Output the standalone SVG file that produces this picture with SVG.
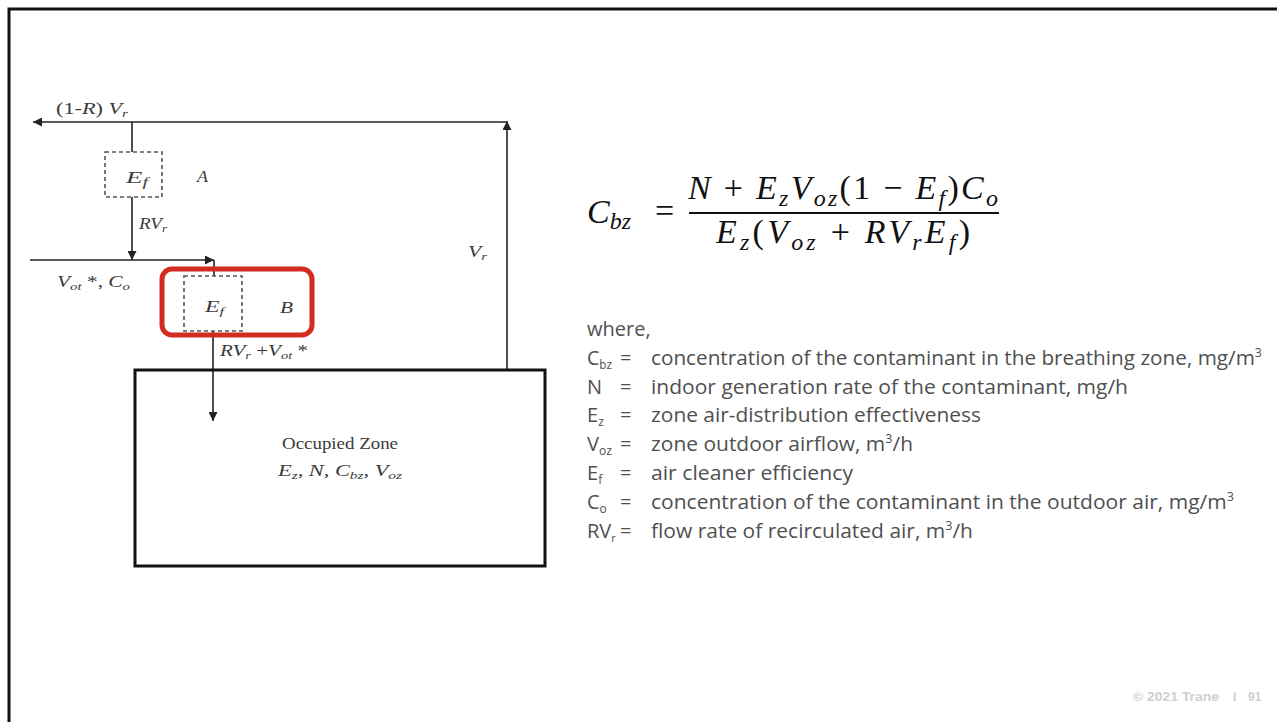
<svg xmlns="http://www.w3.org/2000/svg" width="1277" height="722" viewBox="0 0 1277 722">
<style>
.ln{stroke:#222;stroke-width:1.6;fill:none}
.dash{stroke:#555;stroke-width:1.6;fill:none;stroke-dasharray:4 3}
.dt{font-family:"Liberation Serif","Times New Roman",serif;fill:#3a3a3a;font-size:16px}
.it{font-style:italic}
.eq{font-family:"Liberation Serif","Times New Roman",serif;fill:#111;font-size:34px}
.lst{font-family:"Open Sans","Liberation Sans",sans-serif;fill:#505050;font-size:20px}
.sb{font-size:12px}
.foot{font-family:"Liberation Sans",Arial,sans-serif;fill:#cfcfcf;font-size:12px;font-weight:bold}
</style>
<defs>
<marker id="ah" viewBox="0 0 10 10" refX="10" refY="5" markerWidth="9" markerHeight="9" markerUnits="userSpaceOnUse" orient="auto">
<path d="M0,0 L10,5 L0,10 z" fill="#222"/>
</marker>
</defs>
<rect width="1277" height="722" fill="#fff"/>
<path d="M9,724 V9 H1280" stroke="#111" stroke-width="3" fill="none"/>

<g id="connectors">
<line class="ln" x1="507" y1="122" x2="33" y2="122" marker-end="url(#ah)"/>
<line class="ln" x1="507" y1="370" x2="507" y2="121" marker-end="url(#ah)"/>
<line class="ln" x1="132" y1="122" x2="132" y2="152"/>
<line class="ln" x1="132" y1="197" x2="132" y2="260" marker-end="url(#ah)"/>
<line class="ln" x1="30" y1="260" x2="214" y2="260" marker-end="url(#ah)"/>
<line class="ln" x1="214" y1="260" x2="214" y2="276"/>
<line class="ln" x1="213" y1="331" x2="213" y2="421" marker-end="url(#ah)"/>
</g>

<g id="label-outflow">
<text class="dt" x="56" y="114" textLength="72" lengthAdjust="spacingAndGlyphs">(1-<tspan class="it">R</tspan>) <tspan class="it">V</tspan><tspan class="it" dy="3" font-size="11">r</tspan></text>
</g>
<g id="label-vr">
<text class="dt it" x="468" y="257" textLength="19" lengthAdjust="spacingAndGlyphs">V<tspan dy="3" font-size="11">r</tspan></text>
</g>

<g id="node-filterA">
<rect class="dash" x="105" y="152" width="57" height="45"/>
<text class="dt it" x="126" y="183" font-size="18" textLength="22" lengthAdjust="spacingAndGlyphs">E<tspan dy="3" font-size="12">f</tspan></text>
<text class="dt it" x="197" y="182" textLength="11" lengthAdjust="spacingAndGlyphs">A</text>
</g>
<g id="label-rvr">
<text class="dt it" x="139" y="229" textLength="28" lengthAdjust="spacingAndGlyphs">RV<tspan dy="3" font-size="11">r</tspan></text>
</g>
<g id="label-vot">
<text class="dt" x="57" y="287" textLength="73" lengthAdjust="spacingAndGlyphs"><tspan class="it">V</tspan><tspan class="it" dy="3" font-size="11">ot</tspan><tspan dy="-3"> *, </tspan><tspan class="it">C</tspan><tspan class="it" dy="3" font-size="11">o</tspan></text>
</g>

<g id="node-filterB">
<rect x="162" y="269" width="150" height="66" rx="10" fill="none" stroke="#d42b1f" stroke-width="5"/>
<rect class="dash" x="184" y="276" width="58" height="55"/>
<text class="dt it" x="205" y="312" font-size="17" textLength="19" lengthAdjust="spacingAndGlyphs">E<tspan dy="3" font-size="11">f</tspan></text>
<text class="dt it" x="280" y="313" font-size="17" textLength="13" lengthAdjust="spacingAndGlyphs">B</text>
</g>
<g id="label-supply">
<text class="dt" x="220" y="356" textLength="88" lengthAdjust="spacingAndGlyphs"><tspan class="it">RV</tspan><tspan class="it" dy="3" font-size="11">r</tspan><tspan dy="-3"> +</tspan><tspan class="it">V</tspan><tspan class="it" dy="3" font-size="11">ot</tspan><tspan dy="-3"> *</tspan></text>
</g>

<g id="node-zone">
<rect x="135" y="370" width="410" height="196" fill="none" stroke="#111" stroke-width="3"/>
<text class="dt" x="340" y="449" text-anchor="middle" font-size="17" textLength="116" lengthAdjust="spacingAndGlyphs">Occupied Zone</text>
<text class="dt it" x="340" y="476" text-anchor="middle" font-size="16" textLength="124" lengthAdjust="spacingAndGlyphs">E<tspan dy="3" font-size="11">z</tspan><tspan dy="-3">, N, C</tspan><tspan dy="3" font-size="11">bz</tspan><tspan dy="-3">, V</tspan><tspan dy="3" font-size="11">oz</tspan></text>
</g>

<g id="formula">
<text class="eq it" x="587" y="223">C<tspan dy="6" font-size="24">bz</tspan></text>
<text class="eq" x="655" y="222" font-size="30">=</text>
<text class="eq" x="688" y="199" textLength="310" lengthAdjust="spacing"><tspan class="it">N</tspan> + <tspan class="it">E</tspan><tspan class="it" dy="7" font-size="24">z</tspan><tspan class="it" dy="-7">V</tspan><tspan class="it" dy="7" font-size="24">oz</tspan><tspan dy="-7">(1 − </tspan><tspan class="it">E</tspan><tspan class="it" dy="7" font-size="24">f</tspan><tspan dy="-7">)</tspan><tspan class="it">C</tspan><tspan class="it" dy="7" font-size="24">o</tspan></text>
<line x1="689" y1="213" x2="999" y2="213" stroke="#111" stroke-width="2.2"/>
<text class="eq" x="716" y="243" textLength="254" lengthAdjust="spacing"><tspan class="it">E</tspan><tspan class="it" dy="7" font-size="24">z</tspan><tspan dy="-7">(</tspan><tspan class="it">V</tspan><tspan class="it" dy="7" font-size="24">oz</tspan><tspan dy="-7"> + </tspan><tspan class="it">RV</tspan><tspan class="it" dy="7" font-size="24">r</tspan><tspan class="it" dy="-7">E</tspan><tspan class="it" dy="7" font-size="24">f</tspan><tspan dy="-7">)</tspan></text>
</g>

<g id="legend">
<text class="lst" x="587" y="336">where,</text>
<text class="lst" x="587" y="365" textLength="25" lengthAdjust="spacingAndGlyphs">C<tspan class="sb" dy="4">bz</tspan></text>
<text class="lst" x="587" y="394">N</text>
<text class="lst" x="587" y="422">E<tspan class="sb" dy="4">z</tspan></text>
<text class="lst" x="587" y="451" textLength="25" lengthAdjust="spacingAndGlyphs">V<tspan class="sb" dy="4">oz</tspan></text>
<text class="lst" x="587" y="480">E<tspan class="sb" dy="4">f</tspan></text>
<text class="lst" x="587" y="509">C<tspan class="sb" dy="4">o</tspan></text>
<text class="lst" x="587" y="538" font-size="18">RV<tspan font-size="11" dy="4">r</tspan></text>
<text class="lst" x="620" y="365">=</text>
<text class="lst" x="620" y="394">=</text>
<text class="lst" x="620" y="422">=</text>
<text class="lst" x="620" y="451">=</text>
<text class="lst" x="620" y="480">=</text>
<text class="lst" x="620" y="509">=</text>
<text class="lst" x="620" y="538">=</text>
<text class="lst" x="651" y="365" textLength="611" lengthAdjust="spacingAndGlyphs">concentration of the contaminant in the breathing zone, mg/m<tspan class="sb" dy="-8">3</tspan></text>
<text class="lst" x="651" y="394" textLength="477" lengthAdjust="spacingAndGlyphs">indoor generation rate of the contaminant, mg/h</text>
<text class="lst" x="651" y="422" textLength="330" lengthAdjust="spacingAndGlyphs">zone air-distribution effectiveness</text>
<text class="lst" x="651" y="451" textLength="262" lengthAdjust="spacingAndGlyphs">zone outdoor airflow, m<tspan class="sb" dy="-8">3</tspan><tspan dy="8">/h</tspan></text>
<text class="lst" x="651" y="480" textLength="202" lengthAdjust="spacingAndGlyphs">air cleaner efficiency</text>
<text class="lst" x="651" y="509" textLength="583" lengthAdjust="spacingAndGlyphs">concentration of the contaminant in the outdoor air, mg/m<tspan class="sb" dy="-8">3</tspan></text>
<text class="lst" x="651" y="538" textLength="322" lengthAdjust="spacingAndGlyphs">flow rate of recirculated air, m<tspan class="sb" dy="-8">3</tspan><tspan dy="8">/h</tspan></text>
</g>

<g id="footer">
<text class="foot" x="1133" y="701" textLength="86" lengthAdjust="spacingAndGlyphs">© 2021 Trane</text>
<text class="foot" x="1233" y="701">I</text>
<text class="foot" x="1248" y="701">91</text>
</g>
</svg>
